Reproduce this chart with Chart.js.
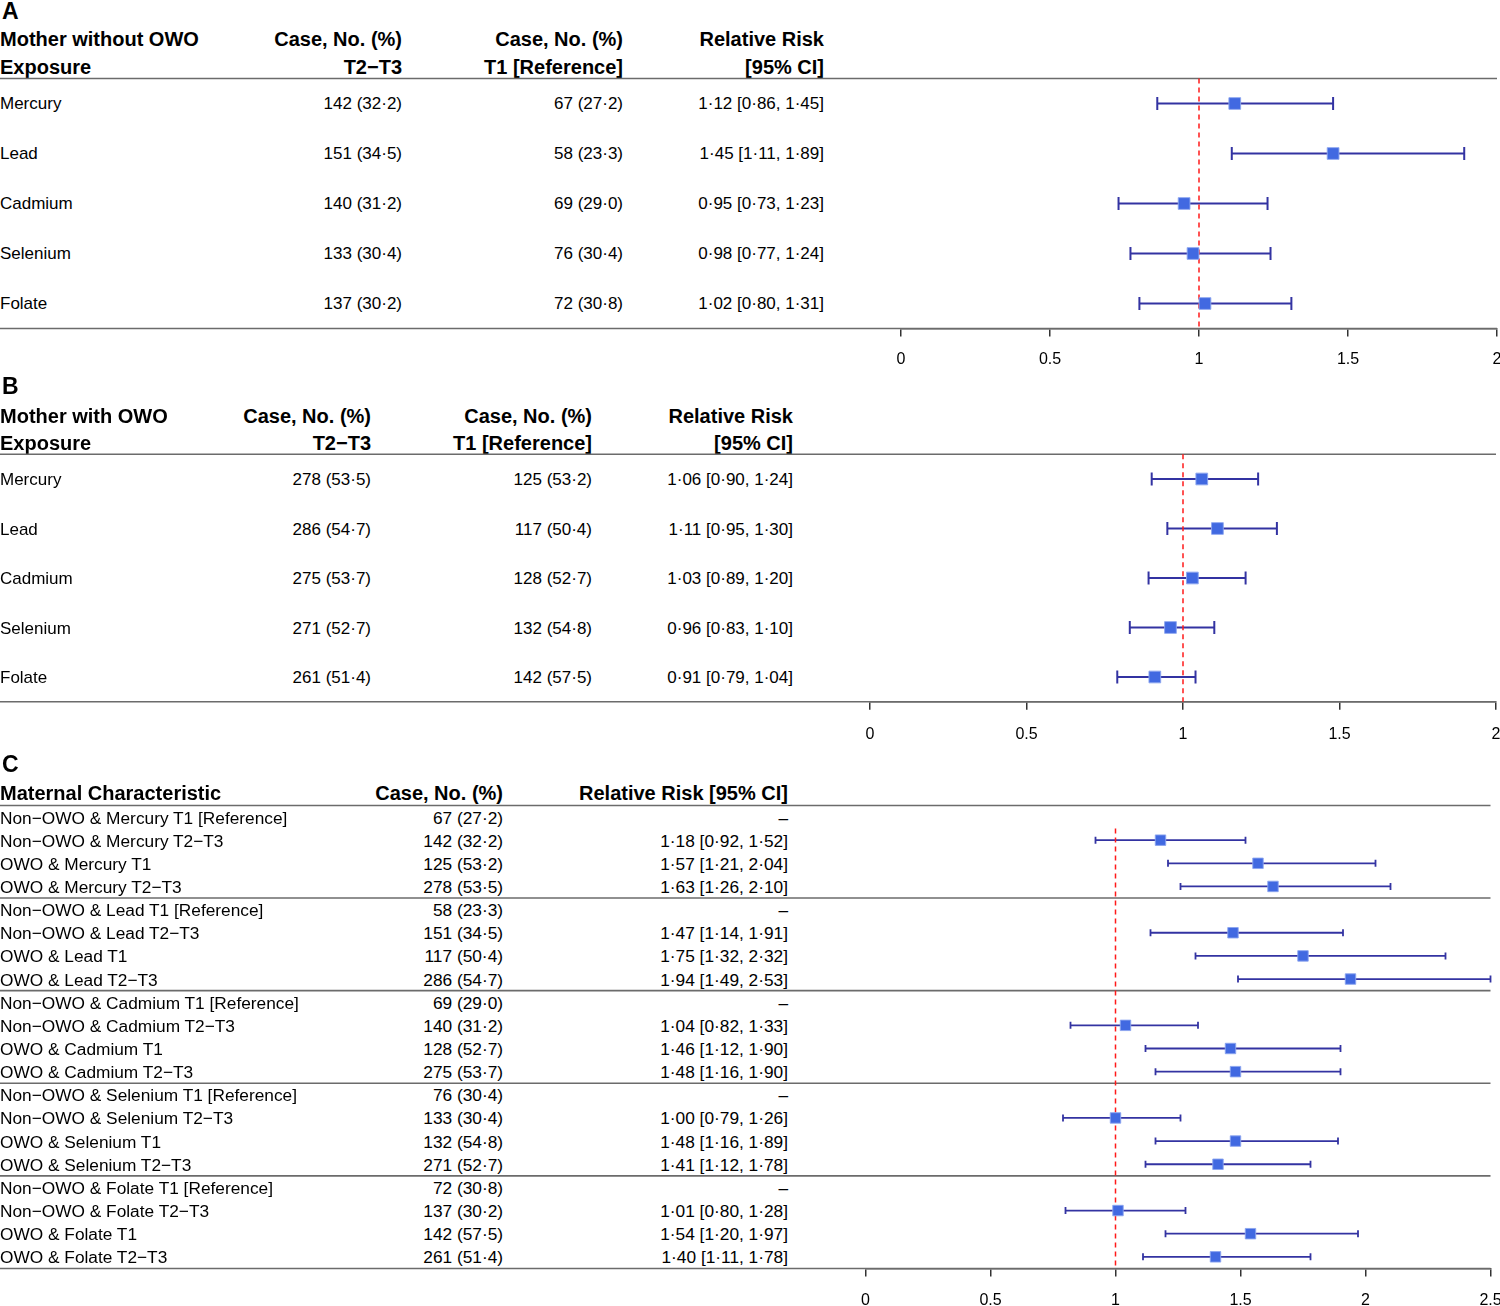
<!DOCTYPE html>
<html lang="en">
<head>
<meta charset="UTF-8">
<title>Relative risk by exposure tertile</title>
<script src="https://cdn.jsdelivr.net/npm/chart.js"></script>
<style>
  body { margin: 0; background: #fff; }
  #page { position: relative; width: 1500px; height: 1306px; overflow: hidden; font-family: "Liberation Sans", Arial, sans-serif; color: #000; }
  .t { position: absolute; white-space: nowrap; transform: translateY(-50%); font-size: 17px; }
  .c { font-size: 17.3px; }
  .h { font-weight: bold; font-size: 20px; }
  .lbl { font-weight: bold; font-size: 23px; }
  canvas { position: absolute; left: 0; }
</style>
</head>
<body>
<div id="page"></div>
<script>
  var exposures = ['Mercury', 'Lead', 'Cadmium', 'Selenium', 'Folate'];

  // A: mothers without OWO
  var aHighN = [142, 151, 140, 133, 137];
  var aHighPct = [32.2, 34.5, 31.2, 30.4, 30.2];
  var aLowN = [67, 58, 69, 76, 72];
  var aLowPct = [27.2, 23.3, 29.0, 30.4, 30.8];
  var aRR = [1.12, 1.45, 0.95, 0.98, 1.02];
  var aLo = [0.86, 1.11, 0.73, 0.77, 0.80];
  var aHi = [1.45, 1.89, 1.23, 1.24, 1.31];

  // B: mothers with OWO
  var bHighN = [278, 286, 275, 271, 261];
  var bHighPct = [53.5, 54.7, 53.7, 52.7, 51.4];
  var bLowN = [125, 117, 128, 132, 142];
  var bLowPct = [53.2, 50.4, 52.7, 54.8, 57.5];
  var bRR = [1.06, 1.11, 1.03, 0.96, 0.91];
  var bLo = [0.90, 0.95, 0.89, 0.83, 0.79];
  var bHi = [1.24, 1.30, 1.20, 1.10, 1.04];

  // C: joint categories, 4 rows per exposure
  var groupRows = ['Non−OWO & {e} T1 [Reference]', 'Non−OWO & {e} T2−T3', 'OWO & {e} T1', 'OWO & {e} T2−T3'];
  var cN = [67, 142, 125, 278, 58, 151, 117, 286, 69, 140, 128, 275, 76, 133, 132, 271, 72, 137, 142, 261];
  var cPct = [27.2, 32.2, 53.2, 53.5, 23.3, 34.5, 50.4, 54.7, 29.0, 31.2, 52.7, 53.7, 30.4, 30.4, 54.8, 52.7, 30.8, 30.2, 57.5, 51.4];
  var cRR = [null, 1.18, 1.57, 1.63, null, 1.47, 1.75, 1.94, null, 1.04, 1.46, 1.48, null, 1.00, 1.48, 1.41, null, 1.01, 1.54, 1.40];
  var cLo = [null, 0.92, 1.21, 1.26, null, 1.14, 1.32, 1.49, null, 0.82, 1.12, 1.16, null, 0.79, 1.16, 1.12, null, 0.80, 1.20, 1.11];
  var cHi = [null, 1.52, 2.04, 2.10, null, 1.91, 2.32, 2.53, null, 1.33, 1.90, 1.90, null, 1.26, 1.89, 1.78, null, 1.28, 1.97, 1.78];

  var ticksAB = [0, 0.5, 1, 1.5, 2];
  var ticksC = [0, 0.5, 1, 1.5, 2, 2.5];

  var page = document.getElementById('page');
  var FONT = '"Liberation Sans", Arial, sans-serif';
  var CW = 1540; // canvas a bit wider than the page, the page clips it

  function dot(v, d) { return v.toFixed(d).replace('.', '·'); }
  function caseTxt(n, p) { return n + ' (' + dot(p, 1) + ')'; }
  function rrTxt(r, l, h) { return r == null ? '–' : dot(r, 2) + ' [' + dot(l, 2) + ', ' + dot(h, 2) + ']'; }

  function put(txt, x, y, align, cls) {
    var d = document.createElement('div');
    d.className = 't ' + (cls || '');
    d.textContent = txt;
    if (align === 'right') d.style.right = (1500 - x) + 'px';
    else d.style.left = x + 'px';
    d.style.top = y + 'px';
    page.appendChild(d);
  }

  var forestPlugin = {
    id: 'forest',
    beforeDatasetsDraw: function (chart, args, o) {
      var ctx = chart.ctx, xs = chart.scales.x, ys = chart.scales.y, a = chart.chartArea;
      ctx.save();
      ctx.strokeStyle = '#6b6b6b';
      ctx.lineWidth = 1.6;
      o.rules.forEach(function (v) {
        var y = ys.getPixelForValue(v);
        ctx.beginPath(); ctx.moveTo(0, y); ctx.lineTo(a.right, y); ctx.stroke();
      });
      ctx.strokeStyle = 'rgba(0,0,139,0.8)';
      ctx.lineWidth = o.lw;
      o.lo.forEach(function (l, i) {
        if (l == null) return;
        var x1 = xs.getPixelForValue(l);
        var x2 = xs.getPixelForValue(Math.min(o.hi[i], xs.max));
        var y = ys.getPixelForValue(i);
        ctx.beginPath();
        ctx.moveTo(x1, y); ctx.lineTo(x2, y);
        ctx.moveTo(x1, y - o.cap); ctx.lineTo(x1, y + o.cap);
        ctx.moveTo(x2, y - o.cap); ctx.lineTo(x2, y + o.cap);
        ctx.stroke();
      });
      var rx = xs.getPixelForValue(1);
      ctx.strokeStyle = '#ff1a1a';
      ctx.lineWidth = 1.5;
      ctx.setLineDash([5, 4]);
      ctx.beginPath(); ctx.moveTo(rx, ys.getPixelForValue(o.refFrom)); ctx.lineTo(rx, a.bottom); ctx.stroke();
      ctx.restore();
    }
  };

  function makeChart(p) {
    var cv = document.createElement('canvas');
    cv.width = CW; cv.height = p.H;
    cv.style.top = p.T + 'px';
    cv.style.width = CW + 'px'; cv.style.height = p.H + 'px';
    page.appendChild(cv);
    var n = p.rr.length;
    var top = p.y0 - p.step / 2;
    var bottom = p.y0 + p.step * (n - 0.5);
    var AXH = 40;
    var pts = [];
    p.rr.forEach(function (v, i) { if (v != null) pts.push({ x: v, y: i }); });
    return new Chart(cv, {
      type: 'scatter',
      data: {
        datasets: [{
          data: pts,
          pointStyle: 'rect',
          pointRadius: p.r,
          pointHoverRadius: p.r,
          backgroundColor: '#4169e1',
          borderColor: 'rgba(140,165,240,0.9)',
          borderWidth: 1
        }]
      },
      options: {
        responsive: false,
        animation: false,
        events: [],
        layout: { padding: { left: p.x0, right: CW - p.x1, top: top - p.T, bottom: p.H - (bottom - p.T) - AXH } },
        plugins: {
          legend: { display: false },
          tooltip: { enabled: false },
          forest: { lo: p.lo, hi: p.hi, rules: p.rules, refFrom: p.refFrom, cap: p.cap, lw: p.lw }
        },
        scales: {
          x: {
            type: 'linear', min: 0, max: p.ticks[p.ticks.length - 1],
            afterBuildTicks: function (s) { s.ticks = p.ticks.map(function (v) { return { value: v }; }); },
            afterFit: function (s) { s.height = AXH; },
            grid: { drawOnChartArea: false, tickLength: 8, color: '#333', lineWidth: 1.5 },
            border: { color: '#555', width: 1.5 },
            ticks: {
              color: '#000', font: { family: FONT, size: 16 }, padding: p.tp, maxRotation: 0,
              callback: function (v) { return String(v); }
            }
          },
          y: { type: 'linear', display: false, reverse: true, min: -0.5, max: n - 0.5 }
        }
      },
      plugins: [forestPlugin]
    });
  }

  // panel A
  put('A', 2, 11, 'left', 'lbl');
  put('Mother without OWO', 0, 39, 'left', 'h');
  put('Exposure', 0, 67, 'left', 'h');
  put('Case, No. (%)', 402, 39, 'right', 'h');
  put('T2−T3', 402, 67, 'right', 'h');
  put('Case, No. (%)', 623, 39, 'right', 'h');
  put('T1 [Reference]', 623, 67, 'right', 'h');
  put('Relative Risk', 824, 39, 'right', 'h');
  put('[95% CI]', 824, 67, 'right', 'h');
  exposures.forEach(function (e, i) {
    var y = 104 + 50 * i;
    put(e, 0, y, 'left');
    put(caseTxt(aHighN[i], aHighPct[i]), 402, y, 'right');
    put(caseTxt(aLowN[i], aLowPct[i]), 623, y, 'right');
    put(rrTxt(aRR[i], aLo[i], aHi[i]), 824, y, 'right');
  });
  makeChart({ T: 0, H: 380, y0: 103.5, step: 50, x0: 901, x1: 1497, ticks: ticksAB, rr: aRR, lo: aLo, hi: aHi,
    rules: [-0.5, 4.5], refFrom: -0.5, r: 8.3, cap: 6.5, lw: 2, tp: 13 });

  // panel B
  put('B', 2, 386, 'left', 'lbl');
  put('Mother with OWO', 0, 416, 'left', 'h');
  put('Exposure', 0, 443, 'left', 'h');
  put('Case, No. (%)', 371, 416, 'right', 'h');
  put('T2−T3', 371, 443, 'right', 'h');
  put('Case, No. (%)', 592, 416, 'right', 'h');
  put('T1 [Reference]', 592, 443, 'right', 'h');
  put('Relative Risk', 793, 416, 'right', 'h');
  put('[95% CI]', 793, 443, 'right', 'h');
  exposures.forEach(function (e, i) {
    var y = 480 + 49.5 * i;
    put(e, 0, y, 'left');
    put(caseTxt(bHighN[i], bHighPct[i]), 371, y, 'right');
    put(caseTxt(bLowN[i], bLowPct[i]), 592, y, 'right');
    put(rrTxt(bRR[i], bLo[i], bHi[i]), 793, y, 'right');
  });
  makeChart({ T: 380, H: 375, y0: 479, step: 49.5, x0: 870, x1: 1496, ticks: ticksAB, rr: bRR, lo: bLo, hi: bHi,
    rules: [-0.5, 4.5], refFrom: -0.5, r: 8.3, cap: 6.5, lw: 2, tp: 15 });

  // panel C
  put('C', 2, 764, 'left', 'lbl');
  put('Maternal Characteristic', 0, 793, 'left', 'h');
  put('Case, No. (%)', 503, 793, 'right', 'h');
  put('Relative Risk [95% CI]', 788, 793, 'right', 'h');
  cN.forEach(function (n, i) {
    var y = 817.5 + 23.15 * i;
    var label = groupRows[i % 4].replace('{e}', exposures[Math.floor(i / 4)]);
    put(label, 0, y, 'left', 'c');
    put(caseTxt(n, cPct[i]), 503, y, 'right', 'c');
    put(rrTxt(cRR[i], cLo[i], cHi[i]), 788, y, 'right', 'c');
  });
  makeChart({ T: 755, H: 551, y0: 817, step: 23.15, x0: 865.5, x1: 1490.5, ticks: ticksC, rr: cRR, lo: cLo, hi: cHi,
    rules: [-0.5, 3.5, 7.5, 11.5, 15.5, 19.5], refFrom: 0.5, r: 7.4, cap: 3.5, lw: 1.8, tp: 15 });
</script>
</body>
</html>
